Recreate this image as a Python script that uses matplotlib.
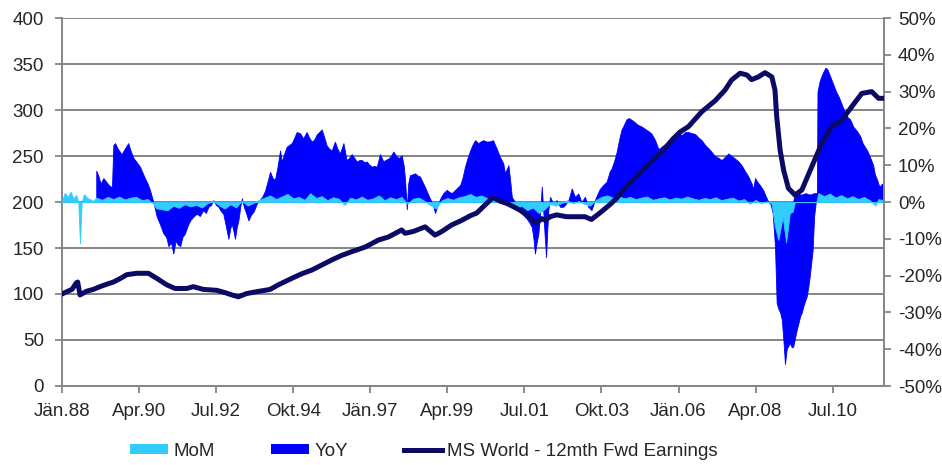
import matplotlib
matplotlib.use("Agg")
import matplotlib.pyplot as plt
from matplotlib.patches import Patch
from matplotlib.lines import Line2D

plt.rcParams["font.family"] = ["Liberation Sans", "DejaVu Sans"]
plt.rcParams["font.size"] = 13.5

# ---- data (x = months since Jän.88) ---------------------------------------
tick_months = [0, 27, 54, 81, 108, 135, 162, 189, 216, 243, 270]
tick_labels = ["Jän.88", "Apr.90", "Jul.92", "Okt.94", "Jän.97", "Apr.99",
               "Jul.01", "Okt.03", "Jän.06", "Apr.08", "Jul.10"]

# MS World 12-month forward earnings index (left axis)
earn_month = [0, 2, 3.5, 5, 5.5, 6.3, 8.6, 11, 13.3, 16, 18, 20.5, 22.7, 26.2,
              30.3, 33.2, 36.7, 39.6, 43.7, 46, 49.5, 54.2, 57.1, 59.5, 61.8,
              64.7, 68.2, 71.1, 72.9, 75.8, 80.5, 84, 87.5, 91, 94.5, 98,
              101.5, 106.2, 110.9, 114.4, 119, 120.2, 123.1, 127.2, 130.7,
              133, 136.5, 140, 143, 145.3, 148.2, 151, 153.4, 155.8, 158.1,
              160.5, 162.8, 165.1, 166.3, 168.1, 169.3, 171, 173.3, 176.8,
              180.3, 183.2, 185.5, 188.4, 191.9, 194.3, 196.6, 200.1, 203.6,
              207.2, 210.7, 214.2, 216.5, 219.5, 224.1, 228.8, 232.3, 234.6,
              237.6, 240, 241.6, 244, 246.3, 248.7, 249.8, 250.4, 251.6,
              252.8, 254.5, 256.8, 259.2, 262.7, 266.2, 269.7, 273.2, 276.7,
              280.2, 283.7, 286.1, 287.8]
earn_value = [100, 103, 105, 112, 113, 99, 103, 105, 108, 111, 113, 117, 121,
              122.5, 122.5, 117, 110, 106, 106, 108, 105, 104, 101.5, 99, 97,
              100.5, 102.5, 104, 105, 110, 117, 122, 126, 131.5, 137, 142,
              146, 151, 158.7, 162, 169.6, 166, 168, 173, 164, 167.8, 175,
              180, 185, 188, 196.7, 205, 201, 198.5, 195, 191, 186, 180, 177,
              182, 180, 184, 186, 184, 184, 184, 181, 188, 197, 204, 213, 224,
              235, 246, 256.5, 269, 276, 282, 298, 310, 321.7, 332.6, 340,
              338, 333, 336, 340.6, 336, 321.7, 293, 256.5, 235, 215, 207.6,
              213, 238.4, 263.8, 282, 289, 303.6, 318, 320, 312.7, 312.7]

# Year-on-year change, % (right axis)
yoy_month = [12, 12.8, 13.5, 14.5, 15.5, 16.5, 17.5, 18, 18.6, 19.5, 20.9, 22,
             23.2, 24, 25, 26, 27.3, 28.2, 29.1, 30, 30.8, 32, 33.2, 34.3,
             35.5, 36.5, 37.3, 38.2, 39, 39.8, 40.5, 41.4, 42.2, 43.1, 44,
             44.9, 46, 47.2, 48.3, 49.5, 50.4, 51.3, 52.2, 53, 54, 54.8, 55.7,
             56.5, 57.4, 58.3, 59, 59.5, 60.1, 60.6, 61.2, 61.8, 62.5, 63,
             63.8, 64.5, 65.3, 66.2, 67.2, 68.2, 69.2, 70.2, 71.1, 72, 72.9,
             73.8, 74.6, 75.5, 76.4, 77, 77.8, 78.7, 79.6, 80.5, 81.4, 82.2,
             83.4, 84.5, 85.7, 86.6, 87.5, 88.4, 89.2, 90.1, 91, 91.9, 92.7,
             93.6, 94.5, 95.6, 96.5, 97.4, 98.6, 99.7, 100.6, 101.5, 102.4,
             103.3, 104.2, 105, 106, 106.8, 107.6, 108.5, 109.4, 110.3, 111.4,
             112.6, 113.5, 114.4, 115.2, 116.1, 117.3, 118.2, 119, 119.7,
             120.2, 120.8, 121.3, 121.9, 122.8, 123.7, 124.6, 125.4, 126.6,
             127.5, 128.3, 129.5, 130.2, 130.7, 131.3, 131.8, 132.7, 133.6,
             134.8, 135.6, 136.5, 137.4, 138.3, 139.5, 140.3, 141.2, 142.1,
             143, 143.8, 144.7, 145.9, 146.8, 147.6, 148.8, 150, 151, 152.3,
             153.4, 154.6, 155.2, 156.4, 157, 157.6, 158.7, 159.6, 160.5,
             161.6, 162.8, 163.7, 164.6, 165.2, 165.7, 166.3, 166.9, 167.5,
             168.1, 168.6, 169.1, 169.6, 170, 170.4, 171, 172.1, 173.3, 174.5,
             175.6, 176.5, 177.4, 178, 178.6, 179.7, 180.9, 182, 183.2, 184.4,
             185.5, 186.7, 187.5, 188.4, 189.5, 190.8, 192, 192.5, 193.4,
             194.3, 195.2, 196, 196.9, 197.8, 198.7, 199.6, 200.5, 201.3,
             202.2, 203.1, 204, 204.8, 205.6, 206.6, 207.8, 208.9, 209.5,
             210.5, 211.9, 213, 214.2, 215.4, 216.5, 217.1, 218.3, 219.5,
             220.6, 221.8, 223, 224.1, 225.3, 226.5, 227.7, 228.8, 230, 231.1,
             232.3, 233.5, 234.6, 235.8, 237, 238.1, 239.2, 240.5, 241.6,
             242.2, 242.8, 243.6, 244.5, 245.7, 246.6, 247.5, 248.2, 249,
             249.8, 250.4, 251, 251.6, 252.2, 252.8, 253.3, 253.9, 254.5,
             255.1, 255.7, 256.2, 256.8, 257.4, 258, 258.6, 259.2, 259.7,
             260.3, 260.9, 261.5, 262, 262.5, 263, 263.5, 264.1, 264.5, 264.7,
             265.5, 266.5, 267.5, 268.2, 269.2, 270.2, 271.2, 272.2, 273.2,
             274.2, 275.3, 276.1, 277.2, 278.3, 279.6, 280.5, 281.3, 282.1,
             283.2, 284.2, 284.8, 285.6, 286.2, 286.6, 287.3, 287.8]
yoy_pct = [8.5, 7.0, 5.0, 6.5, 5.5, 4.5, 4.0, 15.5, 16.0, 14.5, 13.0, 14.5,
           16.0, 14.0, 12.0, 11.0, 9.6, 8.0, 6.4, 5.0, 3.3, 0.0, -4.0, -6.0,
           -8.5, -9.5, -12.0, -11.0, -14.0, -10.5, -11.5, -12.0, -9.5, -8.5,
           -6.5, -5.0, -4.0, -3.2, -3.8, -2.2, -3.0, -1.3, -0.8, 0.5, -0.8,
           -1.3, -2.5, -3.2, -6.5, -10.0, -7.0, -6.0, -8.0, -10.0, -7.0, -5.0,
           -1.0, 1.0, -1.5, -3.0, -5.0, -3.5, -2.5, -0.5, 0.5, 1.5, 3.0, 5.5,
           8.2, 6.5, 6.0, 9.5, 14.0, 11.0, 13.0, 15.0, 15.5, 16.0, 17.5, 19.0,
           18.7, 17.3, 19.0, 17.5, 16.4, 17.0, 18.3, 19.0, 19.7, 17.5, 15.4,
           14.5, 14.0, 16.4, 14.5, 13.2, 16.0, 11.4, 12.0, 13.0, 12.0, 11.0,
           11.4, 11.4, 10.8, 11.0, 10.2, 9.6, 9.8, 9.6, 13.0, 11.0, 11.5, 11.8,
           12.5, 13.7, 12.3, 12.0, 12.7, 10.0, 6.0, -2.0, 5.0, 7.3, 7.5, 7.8,
           7.2, 6.9, 5.0, 3.5, 2.0, 0.0, -1.5, -3.0, -1.5, -0.4, 1.2, 2.4, 3.3,
           2.8, 2.4, 3.0, 3.7, 4.6, 6.5, 9.6, 12.0, 14.0, 15.5, 16.8, 16.0,
           16.5, 16.8, 16.4, 16.5, 16.8, 14.5, 12.3, 10.5, 7.8, 10.0, 6.0, 1.4,
           0.0, -1.0, -2.2, -3.5, -4.5, -5.5, -6.8, -10.0, -14.0, -11.0, -8.6,
           -3.0, 4.2, -2.2, -9.0, -15.0, -8.0, -2.2, 1.4, -0.4, 0.5, -1.3,
           -1.3, -0.5, 0.5, 2.0, 3.7, 1.4, 2.3, 0.0, 1.4, -1.3, -2.2, 0.5, 2.0,
           3.5, 4.5, 5.5, 8.5, 9.0, 11.0, 13.5, 17.0, 19.6, 21.0, 22.5, 22.8,
           22.3, 21.8, 21.2, 20.8, 20.5, 20.0, 19.6, 19.2, 18.5, 16.8, 14.5,
           14.6, 15.3, 16.0, 16.8, 17.3, 17.5, 18.5, 18.2, 19.0, 19.0, 18.7,
           18.5, 17.5, 16.8, 15.5, 14.6, 13.5, 12.5, 12.0, 11.4, 12.3, 13.2,
           12.5, 11.8, 11.0, 10.0, 8.5, 6.9, 5.0, 3.5, 6.5, 5.5, 4.6, 3.2, 1.5,
           0.0, -0.5, -3.0, -12.0, -27.5, -29.0, -30.0, -32.0, -38.0, -44.0,
           -40.0, -39.0, -38.4, -39.5, -39.3, -37.0, -34.8, -33.0, -31.0,
           -30.0, -28.4, -27.0, -25.7, -23.0, -20.0, -16.5, -13.0, -4.0, 0.0,
           2.4, 30.0, 33.0, 35.0, 36.5, 36.0, 34.0, 32.0, 30.0, 28.5, 26.5,
           24.5, 23.0, 22.5, 20.5, 19.5, 18.0, 16.0, 15.0, 14.0, 12.0, 10.0,
           7.5, 6.0, 4.5, 4.2, 5.0, 4.6]

# intra-month YoY highs during the 2009 trough
yoy_high_month = [256.2, 256.6, 257.5, 259, 260.5, 262, 263.5, 264.6]
yoy_high_pct = [0.0, 2.2, 2.3, 2.0, 2.4, 2.0, 2.4, 2.4]

# Month-on-month change, % (right axis)
mom_month = [0, 1, 2, 3, 4, 5, 5.7, 6.3, 6.9, 7.7, 9, 11, 12, 14, 16, 18, 20,
             22, 24, 26, 28, 30, 32, 33, 35, 37, 39, 41, 43, 45, 47, 49, 51,
             53, 55, 57, 59, 61, 63, 65, 67, 69, 71, 73, 75, 77, 79, 81, 83,
             85, 87, 89, 91, 93, 95, 97, 99, 101, 103, 105, 107, 109, 111,
             113, 115, 117, 119, 121, 123, 125, 127, 129, 131, 133, 135, 137,
             139, 141, 143, 145, 147, 149, 151, 153, 155, 157, 159, 161, 163,
             165, 167, 169, 171, 173, 175, 177, 179, 181, 183, 185, 187, 189,
             191, 193, 195, 197, 199, 201, 203, 205, 207, 209, 211, 213, 215,
             217, 219, 221, 223, 225, 227, 229, 231, 233, 235, 237, 239, 241,
             243, 245, 247, 248.6, 249.8, 251, 252.5, 253.7, 255, 256, 256.8,
             264.3, 265, 267, 269, 271, 273, 275, 277, 279, 281,
             283, 285, 286, 287.8]
mom_pct = [0.5, 2.5, 1.4, 2.8, 1.0, 1.9, 0.0, -11.2, 0.0, 2.1, 1.0, 0.3, 1.2,
           0.6, 1.4, 0.8, 1.5, 0.7, 1.2, 1.4, 0.5, 0.8, -0.5, -1.7, -2.0,
           -2.2, -1.0, -1.6, -0.6, -1.2, -0.8, -1.5, -0.3, 0.3, -0.9, -1.8,
           -0.6, -1.5, 0.4, -1.0, -0.3, 0.6, 1.2, 1.8, 0.8, 1.5, 2.2, 1.0, 1.4,
           0.6, 2.4, 1.1, 1.6, 0.5, 1.3, 0.9, -0.8, 1.2, 0.7, 1.5, 0.6, 1.0,
           1.8, 0.5, 1.3, 0.8, 1.4, -0.5, 0.9, 1.2, 0.3, -0.8, -1.8, 0.4, 1.1,
           0.6, 1.3, 1.6, 2.2, 1.4, 1.8, 1.0, 1.5, 0.4, -0.5, -0.9, -1.8, -1.0,
           -2.2, -1.5, -3.0, -2.0, -0.5, -1.0, -0.3, 0.5, -0.4, 0.3, -0.5,
           -1.0, 0.5, 1.4, 1.8, 1.2, 1.6, 1.0, 1.4, 0.8, 1.2, 1.5, 0.6, 1.0,
           1.3, 0.7, 1.2, 0.9, 1.5, 1.0, 0.6, 1.1, 0.8, 1.3, 0.5, 0.9, 1.2,
           0.4, 0.8, -0.5, 0.6, -0.3, 0.2, -0.4, -6.7, -10.3, -4.0, -11.0,
           -3.0, -2.6, 0.0, 0.0, 2.4, 1.6, 2.3, 1.2, 1.9, 1.0,
           1.6, 0.8, 1.4, 0.5, -1.0, 0.8, 0.5]

# ---- styling --------------------------------------------------------------
C_MOM = "#33CCFF"
C_YOY = "#0000FF"
C_LINE = "#0B0B66"
C_GRID = "#858585"
C_TEXT = "#262626"
FS = 13.5

fig = plt.figure(figsize=(9.42, 4.65), dpi=100)
rect = [62 / 942, 1 - 386 / 465, 822 / 942, 368 / 465]

# base axes: left scale, gridlines, date ticks
ax = fig.add_axes(rect)
ax.set_xlim(0, 288)
ax.set_ylim(0, 400)
ax.set_yticks(range(0, 401, 50))
ax.set_xticks(tick_months)
ax.set_xticklabels(tick_labels)
ax.yaxis.grid(True, color=C_GRID, linewidth=1.4)
ax.set_axisbelow(True)
for s in ("top", "right"):
    ax.spines[s].set_visible(False)
for s in ("left", "bottom"):
    ax.spines[s].set_color(C_GRID)
    ax.spines[s].set_linewidth(1.4)
ax.tick_params(axis="both", colors=C_GRID, labelcolor=C_TEXT, labelsize=FS,
               length=5, width=1.3, direction="out")
ax.tick_params(axis="y", pad=8)
ax.tick_params(axis="x", pad=7)

# percent axes: MoM / YoY areas
axp = ax.twinx()
axp.set_ylim(-50, 50)
axp.set_yticks(range(-50, 51, 10))
axp.set_yticklabels([f"{v}%" for v in range(-50, 51, 10)])
for s in ("top", "left", "bottom"):
    axp.spines[s].set_visible(False)
axp.spines["right"].set_color(C_GRID)
axp.spines["right"].set_linewidth(1.4)
axp.tick_params(axis="y", colors=C_GRID, labelcolor=C_TEXT, labelsize=FS,
                length=5, width=1.3, direction="out", pad=5)

axp.fill_between(yoy_month, 0, yoy_pct, color=C_YOY, linewidth=0.6)
axp.fill_between(yoy_high_month, 0, yoy_high_pct, color=C_YOY, linewidth=0.6)
axp.fill_between(mom_month, 0, mom_pct, color=C_MOM, linewidth=0.6)
axp.set_xlim(0, 288)

# earnings line on top, same scale as the left axis
axl = ax.twinx()
axl.set_ylim(0, 400)
axl.set_xlim(0, 288)
axl.axis("off")
axl.plot(earn_month, earn_value, color=C_LINE, linewidth=3.6,
         solid_joinstyle="round", solid_capstyle="round")

handles = [Patch(facecolor=C_MOM, edgecolor="none"),
           Patch(facecolor=C_YOY, edgecolor="none"),
           Line2D([], [], color=C_LINE, linewidth=3.6)]
labels = ["MoM", "YoY", "MS World - 12mth Fwd Earnings"]
leg = fig.legend(handles, labels, loc="center", ncol=3, frameon=False,
                 bbox_to_anchor=(424 / 942, 1 - 451 / 465),
                 handlelength=2.0, handleheight=0.5, handletextpad=0.3,
                 columnspacing=3.0, fontsize=FS, borderpad=0.1)
for t in leg.get_texts():
    t.set_color(C_TEXT)

fig.savefig("out.png", dpi=100)
